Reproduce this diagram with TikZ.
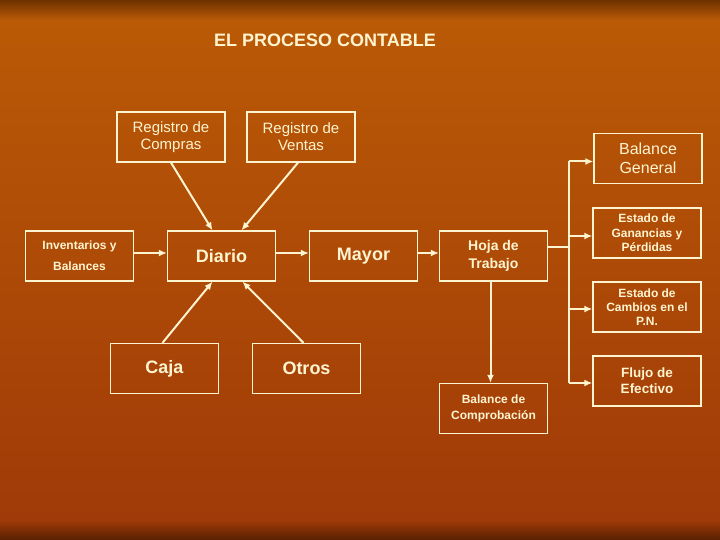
\documentclass[tikz,border=0pt]{standalone}
\usepackage{fontspec}
\setmainfont{Liberation Sans}
\usepackage{tikz}
\usetikzlibrary{positioning, arrows.meta}

\definecolor{crema}{RGB}{255,244,208}
\definecolor{fondoA}{RGB}{110,50,0}
\definecolor{fondoB}{RGB}{186,90,6}
\definecolor{fondoC}{RGB}{160,58,8}
\definecolor{fondoD}{RGB}{88,32,0}

\begin{document}
\begin{tikzpicture} [x=1pt, y=1pt, node distance = 142pt, on grid,
    cuadro/.style = {draw=crema, line width=1.3pt, minimum width=108pt,
      minimum height=50pt, inner sep=0pt, align=center, text=crema},
    flecha/.style = {draw=crema, line width=2pt, -{Latex[length=8pt, width=7pt]}},
    linea/.style = {draw=crema, line width=2pt}]

        % fondo
        \shade [top color=fondoB, bottom color=fondoC] (0,-20) rectangle (720,-520);
        \shade [top color=fondoA, bottom color=fondoB] (0,0) rectangle (720,-20);
        \shade [top color=fondoC, bottom color=fondoD] (0,-520) rectangle (720,-540);
        \useasboundingbox (0,0) rectangle (720,-540);

        \node (titulo) at (325,-40) [text=crema, font=\bfseries\fontsize{18}{22}\selectfont]
        {EL PROCESO CONTABLE};

        \node (inv) at (79.5,-256) [cuadro, font=\bfseries\fontsize{12}{21}\selectfont] {Inventarios y\\Balances};
        \node (diario) [cuadro, right = of inv, font=\bfseries\fontsize{18}{22}\selectfont] {Diario};
        \node (mayor) [cuadro, right = of diario, font=\bfseries\fontsize{18}{22}\selectfont] {Mayor};
        \node (hoja) [cuadro, right = 130pt of mayor, font=\bfseries\fontsize{14}{18}\selectfont] {Hoja de\\Trabajo};

        \node (compras) [cuadro, above left = 119pt and 50.5pt of diario, font=\fontsize{15}{17}\selectfont]
        {Registro de\\Compras};
        \node (ventas) [cuadro, above right = 119pt and 79.5pt of diario, font=\fontsize{15}{17}\selectfont]
        {Registro de\\Ventas};
        \node (caja) [cuadro, below left = 112.5pt and 57pt of diario, font=\bfseries\fontsize{18}{22}\selectfont] {Caja};
        \node (otros) [cuadro, below right = 112.5pt and 85pt of diario, font=\bfseries\fontsize{18}{22}\selectfont] {Otros};

        \node (bcomp) [cuadro, below = 152.5pt of hoja, font=\bfseries\fontsize{12}{15.5}\selectfont]
        {Balance de\\Comprobación};

        \node (egp) [cuadro, above right = 23pt and 153.5pt of hoja, font=\bfseries\fontsize{12}{14.3}\selectfont]
        {Estado de\\Ganancias y\\Pérdidas};
        \node (bg) [cuadro, above = 74.5pt of egp, xshift=1pt, font=\fontsize{16}{18.5}\selectfont] {Balance\\General};
        \node (ecp) [cuadro, below = 74pt of egp, font=\bfseries\fontsize{12}{14.3}\selectfont]
        {Estado de\\Cambios en el\\P.N.};
        \node (flujo) [cuadro, below = 74pt of ecp, font=\bfseries\fontsize{13.5}{16}\selectfont] {Flujo de\\Efectivo};

        \coordinate (bus) at (569,-256);

        \draw [flecha] (compras.south) -- ([xshift=-9pt]diario.north);
        \draw [flecha] ([xshift=-3pt]ventas.south) -- ([xshift=20pt]diario.north);
        \draw [flecha] ([xshift=-2pt]caja.north) -- ([xshift=-9pt]diario.south);
        \draw [flecha] ([xshift=-3pt]otros.north) -- ([xshift=21pt]diario.south);

        \draw [flecha] ([yshift=3pt]inv.east) -- ([yshift=3pt]diario.west);
        \draw [flecha] ([yshift=3pt]diario.east) -- ([yshift=3pt]mayor.west);
        \draw [flecha] ([yshift=3pt]mayor.east) -- ([yshift=3pt]hoja.west);
        \draw [flecha] ([xshift=-3pt]hoja.south) -- ([xshift=-3pt]bcomp.north);

        \draw [linea] ([yshift=9pt]hoja.east) -- ([yshift=9pt]hoja.east -| bus);
        \draw [linea] ([yshift=-3pt]bg.west -| bus) -- ([yshift=-2pt]flujo.west -| bus);
        \draw [flecha] ([yshift=-3pt]bg.west -| bus) -- ([yshift=-3pt]bg.west);
        \draw [flecha] ([yshift=-3pt]egp.west -| bus) -- ([yshift=-3pt]egp.west);
        \draw [flecha] ([yshift=-2pt]ecp.west -| bus) -- ([yshift=-2pt]ecp.west);
        \draw [flecha] ([yshift=-2pt]flujo.west -| bus) -- ([yshift=-2pt]flujo.west);

    \end{tikzpicture}
\end{document}
